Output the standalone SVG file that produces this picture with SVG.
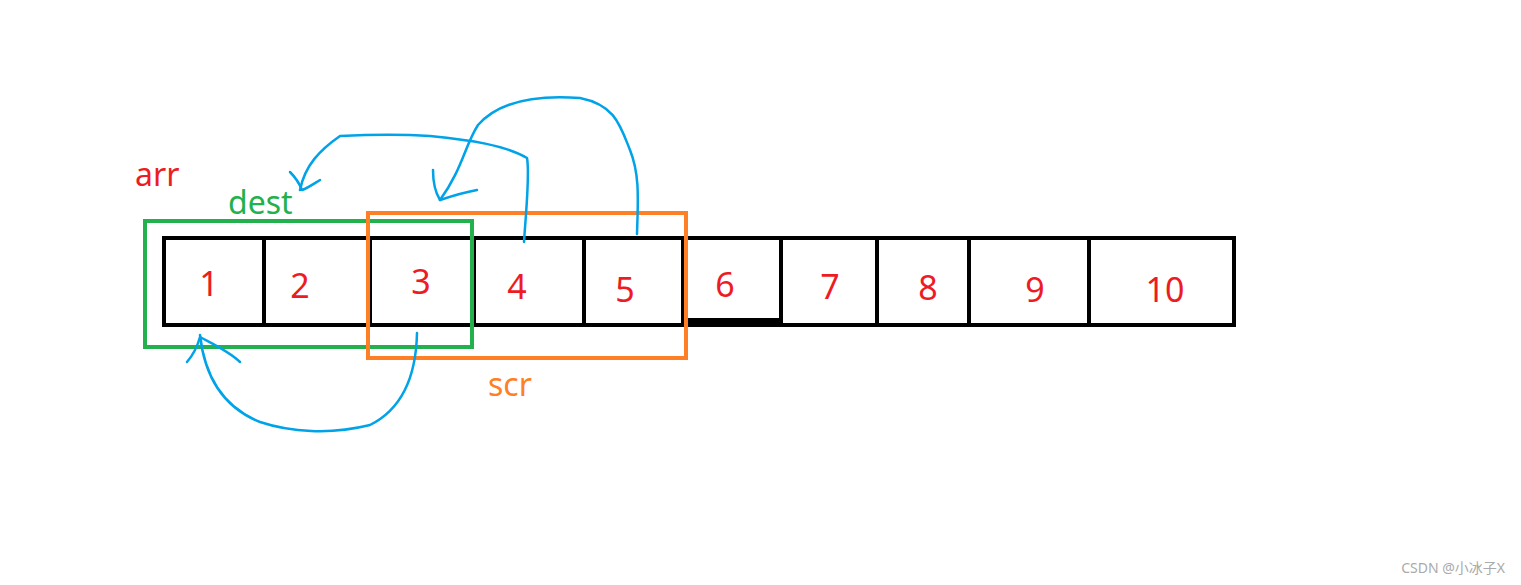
<svg xmlns="http://www.w3.org/2000/svg" width="1521" height="585" viewBox="0 0 1521 585">
<style>
.cell{fill:none;stroke:#000;stroke-width:4}
.num{font-family:"Noto Sans","Liberation Sans",sans-serif;font-size:34px;fill:#ed1c24;text-anchor:middle}
.lbl{font-family:"Noto Sans","Liberation Sans",sans-serif;font-size:32px}
.arc{fill:none;stroke:#00a2e8;stroke-width:2.5;stroke-linecap:round;stroke-linejoin:round}
</style>
<rect width="1521" height="585" fill="#fff"/>
<g id="array">
<rect class="cell" x="164" y="238" width="1070" height="87"/>
<path class="cell" d="M264 238V323M370 238V325M474 238V327M584 238V325M683 238V325M781 238V325M877 238V325M969 238V325M1089 238V327"/>
<path d="M683 321H781" stroke="#000" stroke-width="6"/>
<text class="num" x="209" y="296">1</text>
<text class="num" x="300" y="298">2</text>
<text class="num" x="421" y="294">3</text>
<text class="num" x="517" y="299">4</text>
<text class="num" x="625" y="302">5</text>
<text class="num" x="725" y="297">6</text>
<text class="num" x="830" y="299">7</text>
<text class="num" x="928" y="300">8</text>
<text class="num" x="1035" y="302">9</text>
<text class="num" x="1165" y="302">10</text>
</g>
<g id="arr"><text class="lbl" x="135" y="186" fill="#ed1c24">arr</text></g>
<g id="dest"><rect x="145" y="221" width="327" height="126" fill="none" stroke="#22b14c" stroke-width="4"/><text class="lbl" x="228" y="214" fill="#22b14c">dest</text></g>
<g id="scr"><rect x="368" y="213" width="318" height="145" fill="none" stroke="#ff7f27" stroke-width="4"/><text class="lbl" x="488" y="396" fill="#ff7f27">scr</text></g>
<g id="connectors">
<path class="arc" d="M524 242C526 210 530 175 527 158C505 145 470 140 430 136C400 134 360 135 340 136C320 150 305 165 300 190"/>
<path class="arc" d="M290 172C296 178 300 185 302 190C308 188 315 183 320 180"/>
<path class="arc" d="M637 234C638 200 640 175 630 150C620 125 615 105 580 98C540 95 500 100 478 125C465 145 462 170 440 200"/>
<path class="arc" d="M433 170C433 182 435 192 440 200C452 196 466 192 477 190"/>
<path class="arc" d="M417 333C416 380 400 410 370 425C330 435 290 432 260 422C225 408 205 380 200 335"/>
<path class="arc" d="M187 362C193 355 197 348 200 337C215 345 230 352 240 362"/>
</g>
<text x="1505" y="573" font-family="Noto Sans,Noto Sans CJK SC,sans-serif" font-size="14" fill="#aaa" text-anchor="end">CSDN @小冰子X</text>
</svg>
